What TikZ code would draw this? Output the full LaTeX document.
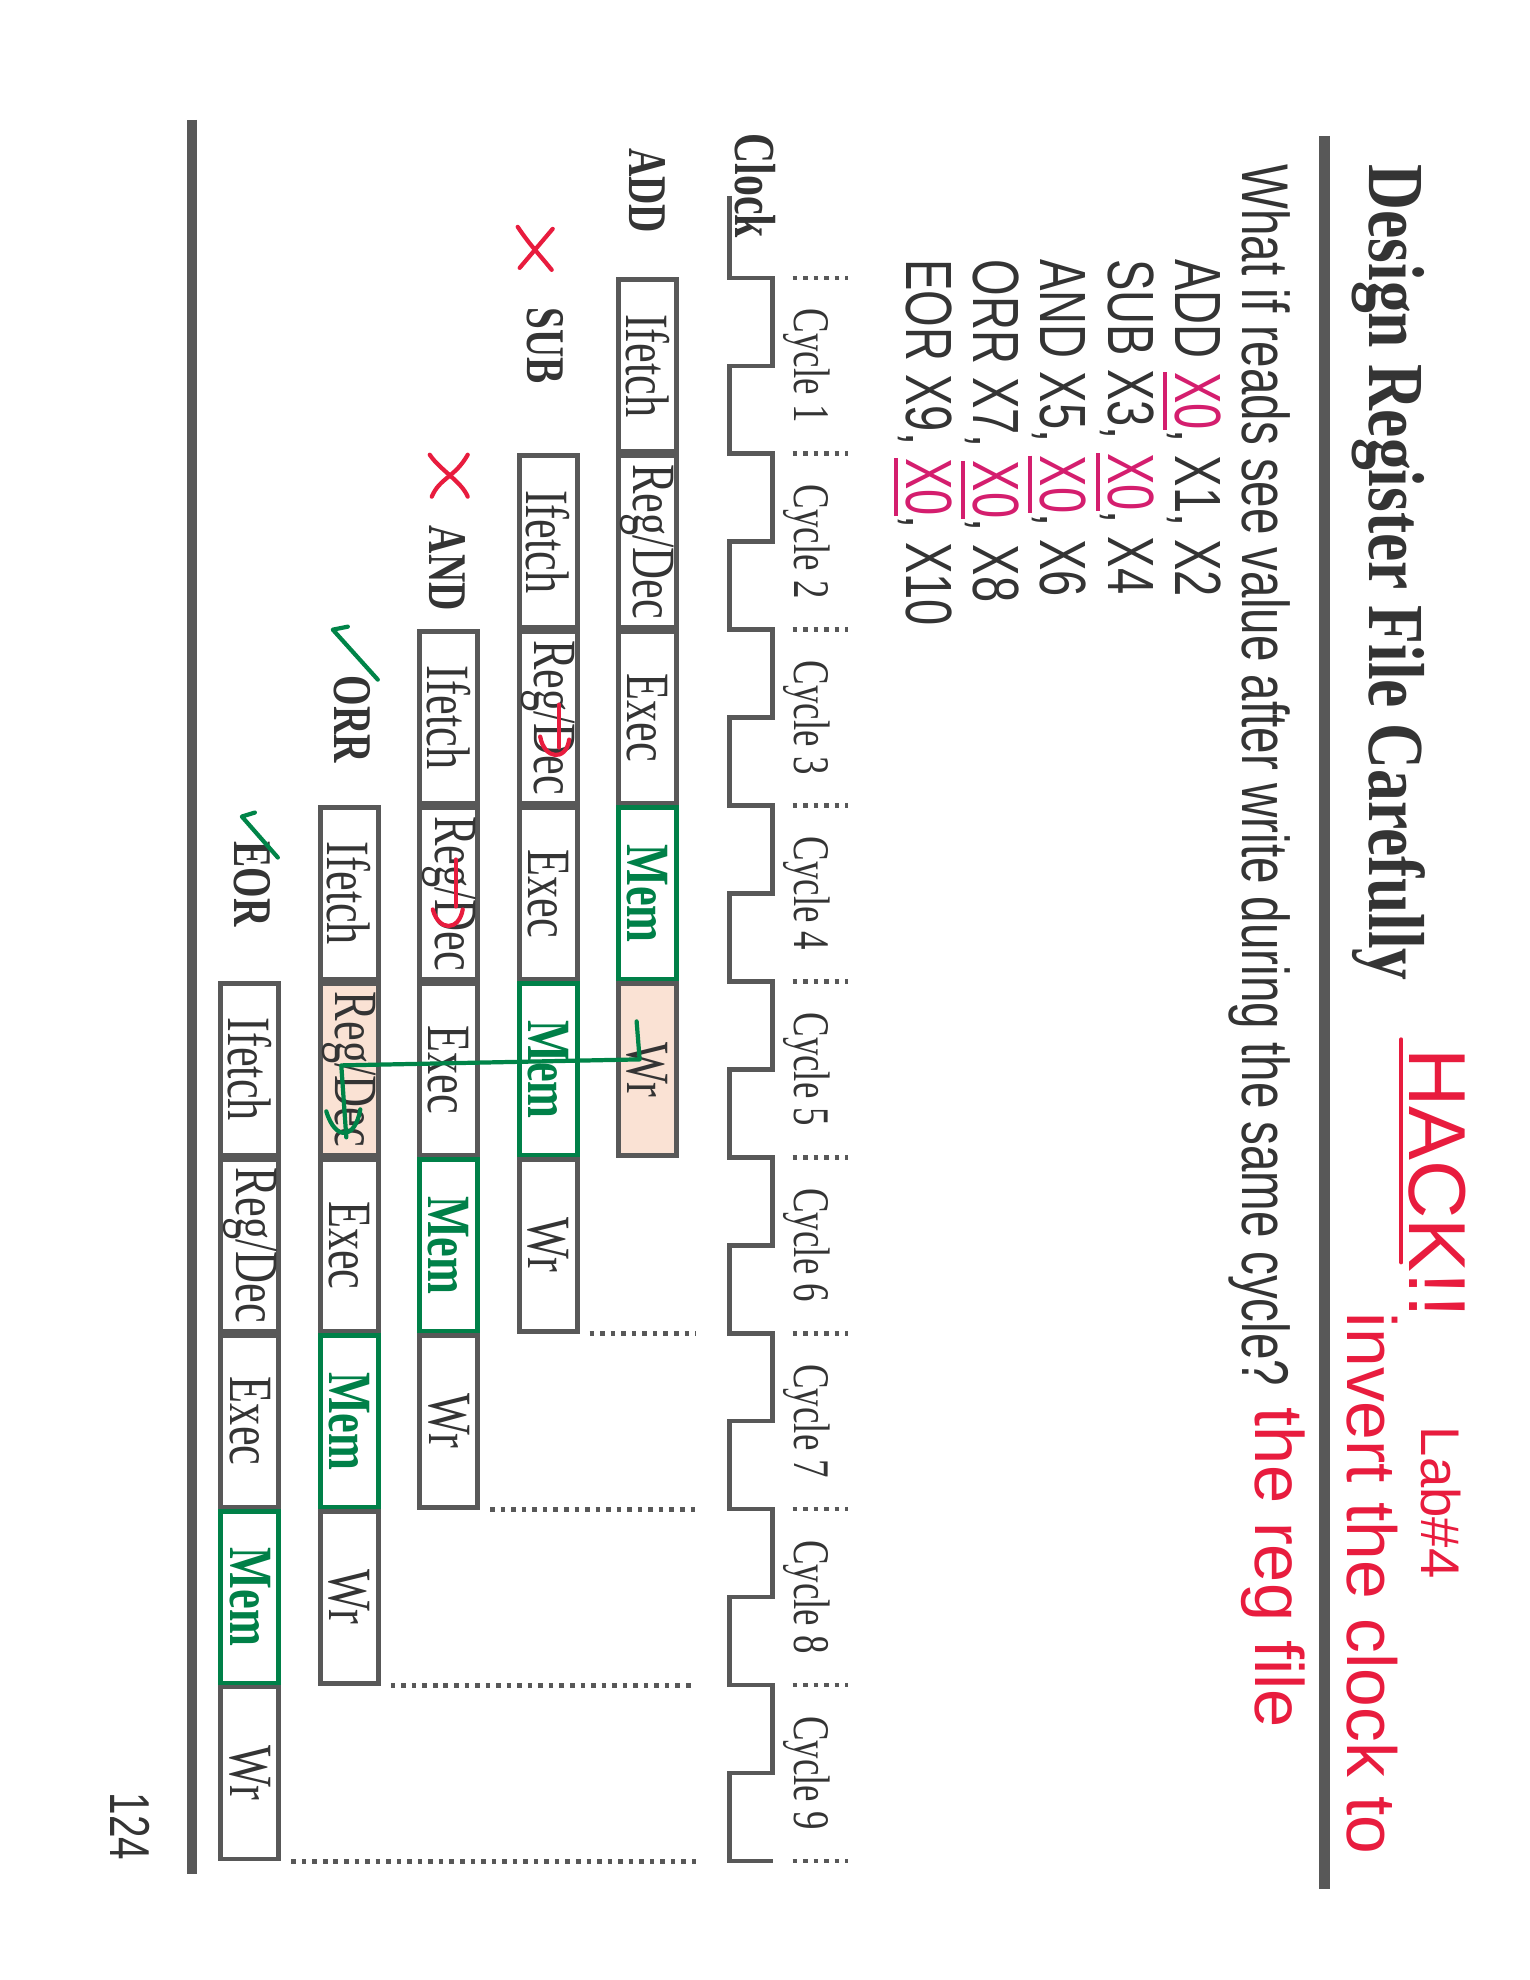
\documentclass[tikz,border=0pt]{standalone}
\usepackage{fontspec}
\usetikzlibrary{calc,backgrounds}
\setmainfont{Liberation Serif}
\newfontfamily\slideserif[FakeStretch=0.72]{Liberation Serif}
\newfontfamily\slidesans[FakeStretch=0.72]{Liberation Sans}
\newfontfamily\titleserif[FakeStretch=0.8]{Liberation Serif}
\newfontfamily\handsans{Liberation Sans}

\definecolor{slidetext}{RGB}{52,52,52}
\definecolor{slidegray}{RGB}{88,88,88}
\definecolor{memgreen}{RGB}{0,128,72}
\definecolor{inkred}{RGB}{232,28,62}
\definecolor{inkpink}{RGB}{212,30,110}
\definecolor{inkgreen}{RGB}{0,132,72}
\definecolor{marker}{RGB}{250,226,212}

\newcommand\regdec{Reg/Dec}
\newcommand\xounder[1]{\setbox0\hbox{#1}\rlap{\rule[-3.6pt]{\wd0}{1.1pt}}\box0}
\newcommand\xo{\textcolor{inkpink}{\xounder{X0}}}

\tikzset{
  stagebox/.style={draw=slidegray, line width=1.4pt, minimum width=1.72cm, minimum height=0.58cm,
    inner sep=0pt, text=slidetext, font=\slideserif\fontsize{17.5}{18}\selectfont},
  membox/.style={stagebox, draw=memgreen, text=memgreen, font=\slideserif\bfseries\fontsize{17.5}{18}\selectfont},
  rowlabel/.style={anchor=east, inner sep=0pt, text=slidetext, font=\slideserif\bfseries\fontsize{15.5}{16}\selectfont},
  cyclelabel/.style={anchor=base, inner sep=0pt, text=slidetext, font=\slideserif\fontsize{14.6}{15}\selectfont},
  listtext/.style={anchor=base west, inner sep=0pt, text=slidetext, font=\slidesans\fontsize{18.6}{20}\selectfont},
  hand/.style={anchor=base west, inner sep=0pt, text=inkred},
  dotline/.style={draw=slidegray, line width=1.3pt, dash pattern=on 1.3pt off 1.7pt},
  clockline/.style={draw=slidegray, line width=1.3pt},
  rule/.style={draw=slidegray, line width=3pt},
  pen/.style={line width=1.2pt, line cap=round, line join=round}
}

\begin{document}
\begin{tikzpicture}
  \useasboundingbox (0,0) rectangle (15.3,-19.8);
  \begin{scope}[rotate=-90, transform shape, x=0.01cm, y=0.01cm]

  % Slide rules
  \draw[rule] (136,1325) -- (1890,1325);
  \draw[rule] (120,192) -- (1875,192);

  % Title and question
  \node[anchor=base west, inner sep=0pt, text=slidetext, font=\titleserif\bfseries\fontsize{22.6}{24}\selectfont]
    (title) at (164,1370) {Design Register File Carefully};
  \node[listtext, font=\slidesans\fontsize{18.8}{20}\selectfont] (question) at (164,1243)
    {What if reads see value after write during the same cycle?};

  % Instruction list
  \node[listtext] (ins1) at (259,1176) {ADD \xo, X1, X2};
  \node[listtext] (ins2) at (259,1109) {SUB X3, \xo, X4};
  \node[listtext] (ins3) at (259,1041) {AND X5, \xo, X6};
  \node[listtext] (ins4) at (259,974) {ORR X7, \xo, X8};
  \node[listtext] (ins5) at (259,907) {EOR X9, \xo, X10};

  % Clock and cycles
  \node[anchor=base west, inner sep=0pt, text=slidetext, font=\slideserif\bfseries\fontsize{16.5}{17}\selectfont]
    (clk) at (133,736) {Clock};
  \draw[clockline] (196,730) \foreach \k in {0,...,8}{
      -- ({278+176*\k},730) -- ({278+176*\k},773) -- ({366+176*\k},773) -- ({366+176*\k},730) }
    -- (1862,730) -- (1862,773);
  \foreach \k in {1,...,9}
    \node[cyclelabel] (cyc\k) at ({366+176*(\k-1)},795) {Cycle \k};
  \foreach \k in {0,...,9}
    \draw[dotline] ({278+176*\k},793) -- ({278+176*\k},848);

  % Instruction labels
  \node[rowlabel] (lADD) at (234,648) {ADD};
  \node[rowlabel] (lSUB) at (385,546) {SUB};
  \node[rowlabel] (lAND) at (612,448) {AND};
  \node[rowlabel] (lORR) at (764,352) {ORR};
  \node[rowlabel] (lEOR) at (928,252) {EOR};

  % Pipeline stages
  \foreach \r/\ins in {0/ADD,1/SUB,2/AND,3/ORR,4/EOR}
    \foreach \s/\st/\sty in {0/Ifetch/stagebox,1/\regdec/stagebox,2/Exec/stagebox,3/Mem/membox,4/Wr/stagebox}
      \node[\sty] (\ins\s) at ({366+176*(\r+\s)},{648-99.5*\r}) {\st};

  % Highlighted write and read
  \begin{scope}[on background layer]
    \fill[marker] (ADD4.south west) rectangle (ADD4.north east);
    \fill[marker] (ORR1.south west) rectangle (ORR1.north east);
  \end{scope}

  % Dotted ends of the rows
  \coordinate (dotend) at (0,696);
  \foreach \ins in {SUB,AND,ORR,EOR}
    \draw[dotline] ($(\ins4.north east)+(0,10)$) -- (\ins4.north east |- dotend);

  % Hand marks: crosses and ticks
  \draw[pen, inkred] (229,553) -- (268,520);
  \draw[pen, inkred] (227,518) .. controls (245,530) and (255,540) .. (270,552);
  \draw[pen, inkred] (455,468) .. controls (478,455) and (478,440) .. (497,432);
  \draw[pen, inkred] (455,430) .. controls (470,440) and (482,462) .. (497,468);
  \draw[pen, inkgreen] (627,348) -- (630,333) -- (680,378);
  \draw[pen, inkgreen] (813,255) -- (817,242) -- (858,278);

  % Hand marks on the reads
  \draw[pen, inkred] ($(SUB1.center)+(-13,11)$) -- ($(SUB1.center)+(30,11)$);
  \draw[pen, inkred] ($(SUB1.center)+(19,-8)$) .. controls ($(SUB1.center)+(42,-4)$) and ($(SUB1.center)+(44,18)$) .. ($(SUB1.center)+(22,21)$);
  \draw[pen, inkred] ($(AND1.center)+(-34,7)$) -- ($(AND1.center)+(13,7)$);
  \draw[pen, inkred] ($(AND1.center)+(16,-16)$) .. controls ($(AND1.center)+(38,-10)$) and ($(AND1.center)+(38,10)$) .. ($(AND1.center)+(16,14)$);

  % Write of ADD forwarded to the read of ORR
  \draw[pen, inkgreen] ($(ADD4.center)+(-48,-11)$) -- ($(ADD4.center)+(-10,-8)$)
    -- ($(ORR1.center)+(-4,-8)$) -- ($(ORR1.center)+(68,-3)$);
  \draw[pen, inkgreen] ($(ORR1.center)+(42,-23)$) .. controls ($(ORR1.center)+(72,-14)$) and ($(ORR1.center)+(70,6)$) .. ($(ORR1.center)+(40,11)$);

  % Hand notes
  \node[hand, font=\handsans\fontsize{23}{24}\selectfont] (hack) at (1048,1410) {HACK!!};
  \draw[pen, inkred] ($(hack.base west)+(-8,-8)$) -- ($(hack.base west)+(215,-8)$);
  \node[hand, font=\handsans\fontsize{15.5}{16}\selectfont] (lab) at (1427,1422) {Lab\#4};
  \node[hand, font=\handsans\fontsize{19.8}{20}\selectfont] (note1) at (1313,1348) {invert the clock to};
  \node[hand, font=\handsans\fontsize{19.5}{20}\selectfont] (note2) at (1408,1256) {the reg file};

  % Page number
  \node[anchor=base east, inner sep=0pt, text=slidetext, font=\slidesans\fontsize{16}{16}\selectfont]
    (pagenum) at (1862,111) {124};

  \end{scope}
\end{tikzpicture}
\end{document}
